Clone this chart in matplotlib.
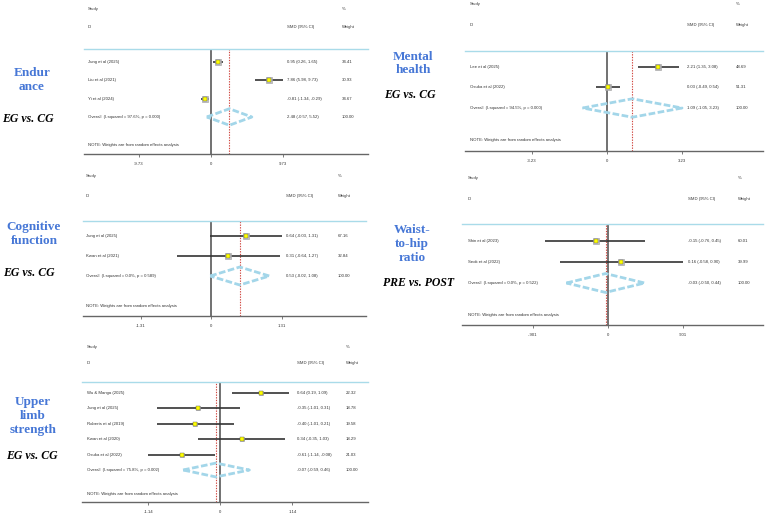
import matplotlib
matplotlib.use("Agg")
import matplotlib.pyplot as plt
import matplotlib.transforms as mtransforms
import numpy as np

W, H = 767, 515

# ---- data ----
end_studies = ["Jung et al (2025)", "Liu et al (2021)", "Yi et al (2024)"]
end_smd = [0.95, 7.86, -0.81]
end_lo = [0.26, 5.98, -1.34]
end_hi = [1.65, 9.73, -0.29]
end_weight = [34.41, 30.93, 34.67]
end_overall = [2.48, -0.57, 5.52]
end_het = "97.6%, p = 0.000"
end_tick = 9.73
end_ticklabels = ["-9.73", "0", "9.73"]

cog_studies = ["Jung et al (2025)", "Kwan et al (2021)"]
cog_smd = [0.64, 0.31]
cog_lo = [-0.03, -0.64]
cog_hi = [1.31, 1.27]
cog_weight = [67.16, 32.84]
cog_overall = [0.53, -0.02, 1.08]
cog_het = "0.0%, p = 0.589"
cog_tick = 1.31
cog_ticklabels = ["-1.31", "0", "1.31"]

upp_studies = ["Wu & Manga (2025)", "Jung et al (2025)", "Roberts et al (2019)",
               "Kwan et al (2020)", "Osuka et al (2022)"]
upp_smd = [0.64, -0.35, -0.40, 0.34, -0.61]
upp_lo = [0.19, -1.01, -1.01, -0.35, -1.14]
upp_hi = [1.09, 0.31, 0.21, 1.03, -0.08]
upp_weight = [22.32, 18.78, 19.58, 18.29, 21.03]
upp_overall = [-0.07, -0.59, 0.46]
upp_het = "75.8%, p = 0.002"
upp_tick = 1.14
upp_ticklabels = ["-1.14", "0", "1.14"]

men_studies = ["Lee et al (2025)", "Osuka et al (2022)"]
men_smd = [2.21, 0.03]
men_lo = [1.35, -0.49]
men_hi = [3.08, 0.54]
men_weight = [48.69, 51.31]
men_overall = [1.09, -1.05, 3.23]
men_het = "94.5%, p = 0.000"
men_tick = 3.23
men_ticklabels = ["-3.23", "0", "3.23"]

wst_studies = ["Shin et al (2023)", "Seok et al (2022)"]
wst_smd = [-0.15, 0.16]
wst_lo = [-0.76, -0.58]
wst_hi = [0.45, 0.90]
wst_weight = [60.01, 39.99]
wst_overall = [-0.03, -0.50, 0.44]
wst_het = "0.0%, p = 0.522"
wst_tick = 0.901
wst_ticklabels = ["-.901", "0", ".901"]

# ---- layout of each panel, in pixels of the 767x515 image ----
end_box = dict(left=84, right=368, zero=211, tick_px=283, top=49, bottom=154, row0=62, step=18.33,
               study_y=9, id_y=27, note_y=145, name_x=88, smd_x=287, wt_x=342)
cog_box = dict(left=83, right=366, zero=211.3, tick_px=281.7, top=221, bottom=316, row0=236, step=20,
               study_y=176, id_y=196, note_y=306, name_x=86, smd_x=286, wt_x=338)
upp_box = dict(left=82, right=368, zero=220.3, tick_px=292.3, top=382, bottom=502, row0=393, step=15.4,
               study_y=347, id_y=363, note_y=494, name_x=87, smd_x=297, wt_x=346)
men_box = dict(left=465, right=763, zero=607, tick_px=682, top=51, bottom=151, row0=67, step=20.5,
               study_y=4, id_y=25, note_y=140, name_x=470, smd_x=687, wt_x=736)
wst_box = dict(left=462, right=763, zero=608, tick_px=683, top=224, bottom=325, row0=241, step=21,
               study_y=178, id_y=199, note_y=315, name_x=468, smd_x=688, wt_x=738)

SMALL = 3.1
SANS = "Liberation Sans"
SERIF = "Liberation Serif"
LABEL_BLUE = "#4677d6"
DIAMOND = "#a3d6e9"


def draw_panel(fig, box, studies, smd, lo, hi, weight, overall, het, tick, ticklabels):
    n = len(studies)
    ax = fig.add_axes([box["left"] / W, 1 - box["bottom"] / H,
                       (box["right"] - box["left"]) / W, (box["bottom"] - box["top"]) / H])
    scale = tick / (box["tick_px"] - box["zero"])
    ax.set_xlim((box["left"] - box["zero"]) * scale, (box["right"] - box["zero"]) * scale)

    def row(px):
        return (px - box["row0"]) / box["step"]

    ax.set_ylim(row(box["bottom"]), row(box["top"]))

    # reference lines
    ax.axvline(0, color="#666666", lw=1.3, zorder=1)
    ax.axvline(overall[0], color="#d0463f", lw=0.8, ls=(0, (1.2, 1.2)), zorder=2)

    # studies
    for i in range(n):
        ax.plot([lo[i], hi[i]], [i, i], color="#333333", lw=1.2, solid_capstyle="butt", zorder=3)
        ax.plot(smd[i], i, "s", ms=1.4 + 0.4 * np.sqrt(weight[i]), color="#c4c4c4",
                mec="#9c9c9c", mew=0.4, zorder=4)
        ax.plot(smd[i], i, "s", ms=2.2, color="#ffff00", mec="#555555", mew=0.3, zorder=5)

    # pooled diamond
    est, olo, ohi = overall
    ax.plot([olo, est, ohi, est, olo], [n, n - 0.45, n, n + 0.45, n], color=DIAMOND,
            lw=2.0, ls=(0, (2.4, 0.9)), zorder=6)

    # frame: light blue line on top, grey axis at the bottom
    for s in ["left", "right"]:
        ax.spines[s].set_visible(False)
    ax.spines["top"].set_color("#a9dbe9")
    ax.spines["top"].set_linewidth(1.0)
    ax.spines["bottom"].set_color("#666666")
    ax.spines["bottom"].set_linewidth(1.0)
    ax.set_yticks([])
    ax.set_xticks([-tick, 0, tick])
    ax.set_xticklabels(ticklabels, fontsize=SMALL, family=SANS, color="#333333")
    ax.tick_params(axis="x", length=2.5, width=0.6, color="#666666", pad=3)
    ax.patch.set_alpha(0)

    # text columns
    trans = mtransforms.blended_transform_factory(fig.transFigure, ax.transData)
    kw = dict(transform=trans, fontsize=SMALL, family=SANS, color="#333333", va="center", ha="left")
    ax.text(box["name_x"] / W, row(box["study_y"]), "Study", **kw)
    ax.text(box["name_x"] / W, row(box["id_y"]), "ID", **kw)
    ax.text(box["smd_x"] / W, row(box["id_y"]), "SMD (95% CI)", **kw)
    ax.text(box["wt_x"] / W, row(box["study_y"]), "%", **kw)
    ax.text(box["wt_x"] / W, row(box["id_y"]), "Weight", **kw)
    for i in range(n):
        ax.text(box["name_x"] / W, i, studies[i], **kw)
        ax.text(box["smd_x"] / W, i, "%.2f (%.2f, %.2f)" % (smd[i], lo[i], hi[i]), **kw)
        ax.text(box["wt_x"] / W, i, "%.2f" % weight[i], **kw)
    ax.text(box["name_x"] / W, n, "Overall  (I-squared = %s)" % het, **kw)
    ax.text(box["smd_x"] / W, n, "%.2f (%.2f, %.2f)" % (est, olo, ohi), **kw)
    ax.text(box["wt_x"] / W, n, "100.00", **kw)
    ax.text(box["name_x"] / W, row(box["note_y"]), "NOTE: Weights are from random effects analysis", **kw)
    return ax


def side_label(fig, x, y, title, compare, cx, cy):
    fig.text(x / W, 1 - y / H, title, ha="center", va="center", fontsize=9.5, family=SERIF,
             weight="bold", color=LABEL_BLUE, linespacing=1.2)
    fig.text(cx / W, 1 - cy / H, compare, ha="center", va="center", fontsize=8.5, family=SERIF,
             weight="bold", style="italic", color="black")


fig = plt.figure(figsize=(W / 100, H / 100), dpi=100)
fig.patch.set_facecolor("white")

draw_panel(fig, end_box, end_studies, end_smd, end_lo, end_hi, end_weight, end_overall,
           end_het, end_tick, end_ticklabels)
draw_panel(fig, cog_box, cog_studies, cog_smd, cog_lo, cog_hi, cog_weight, cog_overall,
           cog_het, cog_tick, cog_ticklabels)
draw_panel(fig, upp_box, upp_studies, upp_smd, upp_lo, upp_hi, upp_weight, upp_overall,
           upp_het, upp_tick, upp_ticklabels)
draw_panel(fig, men_box, men_studies, men_smd, men_lo, men_hi, men_weight, men_overall,
           men_het, men_tick, men_ticklabels)
draw_panel(fig, wst_box, wst_studies, wst_smd, wst_lo, wst_hi, wst_weight, wst_overall,
           wst_het, wst_tick, wst_ticklabels)

side_label(fig, 32, 80, "Endur\nance", "EG vs. CG", 28, 119)
side_label(fig, 34, 234, "Cognitive\nfunction", "EG vs. CG", 29, 273)
side_label(fig, 33, 416, "Upper\nlimb\nstrength", "EG vs. CG", 32, 456)
side_label(fig, 413, 63.5, "Mental\nhealth", "EG vs. CG", 410, 95)
side_label(fig, 412, 244, "Waist-\nto-hip\nratio", "PRE vs. POST", 418, 283)

fig.savefig("out.png", dpi=100)
